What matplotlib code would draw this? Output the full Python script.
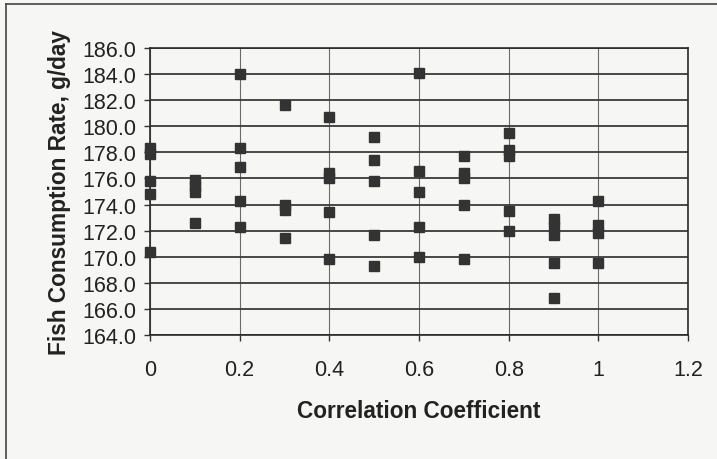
import matplotlib
matplotlib.use("Agg")
import matplotlib.pyplot as plt
from matplotlib.lines import Line2D
from matplotlib.ticker import FuncFormatter

plt.rcParams['font.family'] = ['Liberation Sans', 'DejaVu Sans']

# Data (correlation coefficient -> fish consumption rate, g/day)
corr_0_0 = [178.3, 177.9, 175.8, 174.8, 170.4]
corr_0_1 = [175.85, 175.4, 175.0, 172.6]
corr_0_2 = [184.0, 178.3, 176.9, 174.3, 172.3]
corr_0_3 = [181.6, 174.0, 173.6, 171.4]
corr_0_4 = [180.7, 176.4, 176.0, 173.4, 169.8]
corr_0_5 = [179.2, 177.4, 175.8, 171.7, 169.3]
corr_0_6 = [184.1, 176.6, 175.0, 172.3, 170.0]
corr_0_7 = [177.7, 176.4, 176.0, 174.0, 169.8]
corr_0_8 = [179.5, 178.2, 177.7, 173.5, 172.0]
corr_0_9 = [172.9, 172.3, 171.7, 169.5, 166.8]
corr_1_0 = [174.3, 172.45, 171.8, 169.5]

coefficients = [0.0, 0.1, 0.2, 0.3, 0.4, 0.5, 0.6, 0.7, 0.8, 0.9, 1.0]
rates = [corr_0_0, corr_0_1, corr_0_2, corr_0_3, corr_0_4, corr_0_5,
         corr_0_6, corr_0_7, corr_0_8, corr_0_9, corr_1_0]

x_ticks = [0, 0.2, 0.4, 0.6, 0.8, 1.0, 1.2]
x_tick_labels = ["0", "0.2", "0.4", "0.6", "0.8", "1", "1.2"]
y_ticks = [164, 166, 168, 170, 172, 174, 176, 178, 180, 182, 184, 186]

xs, ys = [], []
for c, vals in zip(coefficients, rates):
    for v in vals:
        xs.append(c)
        ys.append(v)

bg = "#f6f6f4"
fig = plt.figure(figsize=(7.17, 4.60), dpi=100, facecolor=bg)
ax = fig.add_axes([150/717, 1 - 336/460, (688 - 150)/717, (336 - 49)/460])
ax.set_facecolor(bg)

ax.set_xlim(0, 1.2)
ax.set_ylim(164, 186)
ax.set_xticks(x_ticks)
ax.set_xticklabels(x_tick_labels)
ax.set_yticks(y_ticks)
ax.yaxis.set_major_formatter(FuncFormatter(lambda v, p: f"{v:.1f}"))

ax.grid(axis='y', color='#3a3a3a', linewidth=1.3)
ax.grid(axis='x', color='#6a6a6a', linewidth=0.8)
ax.set_axisbelow(True)

for s in ax.spines.values():
    s.set_color('#2a2a2a')
    s.set_linewidth(1.2)

ax.tick_params(axis='both', direction='out', length=4, width=1, color='#333333',
               labelsize=15.5, labelcolor='#222222')
ax.tick_params(axis='x', pad=13)
ax.tick_params(axis='y', pad=6)

ax.plot(xs, ys, linestyle='none', marker='s', markersize=7, color='#333333',
        markeredgecolor='#333333', clip_on=False, zorder=3)

ax.set_xlabel("Correlation Coefficient", fontsize=16.3, fontweight='bold',
              color='#222222', labelpad=14)
ax.set_ylabel("Fish Consumption Rate, g/day", fontsize=16.3, fontweight='bold',
              color='#222222', labelpad=8)

# outer frame (top and left edges visible in the scan)
fig.add_artist(Line2D([6/717, 6/717], [0, 1 - 5/460], transform=fig.transFigure,
                      color='#444444', linewidth=1.2))
fig.add_artist(Line2D([6/717, 1], [1 - 5/460, 1 - 5/460], transform=fig.transFigure,
                      color='#444444', linewidth=1.2))

fig.savefig("out.png", dpi=100, facecolor=bg)
